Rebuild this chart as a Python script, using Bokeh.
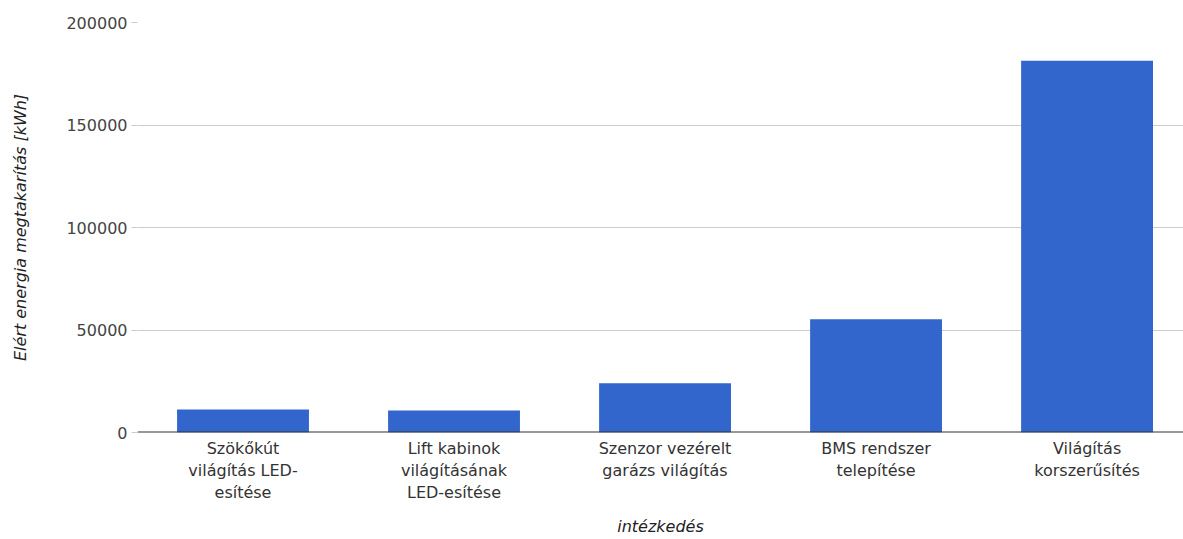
from bokeh.plotting import figure
from bokeh.models import Range1d, FixedTicker, NumeralTickFormatter, Span
from bokeh.embed import file_html
from bokeh.resources import INLINE

categories = [
    "Szökőkút\nvilágítás LED-\nesítése",
    "Lift kabinok\nvilágításának\nLED-esítése",
    "Szenzor vezérelt\ngarázs világítás",
    "BMS rendszer\ntelepítése",
    "Világítás\nkorszerűsítés",
]
savings = [11200, 10700, 24000, 55200, 181300]
y_ticks = [0, 50000, 100000, 150000, 200000]

xs = list(range(len(categories)))

p = figure(width=1183, height=539, output_backend="svg", toolbar_location=None,
           x_range=Range1d(-0.5, 4.457), y_range=Range1d(0, 200000),
           min_border_left=137, min_border_right=0, min_border_top=22,
           min_border_bottom=107)
p.outline_line_color = None
p.background_fill_color = "white"

p.vbar(x=xs, top=savings, width=0.625, color="#3366cc", line_color=None)

p.add_layout(Span(location=0, dimension="width", line_color="#333333", line_width=2))

font = "DejaVu Sans"
p.xaxis.ticker = FixedTicker(ticks=xs)
p.xaxis.major_label_overrides = {i: c for i, c in zip(xs, categories)}
p.xaxis.axis_line_color = None
p.xaxis.major_tick_line_color = None
p.xaxis.minor_tick_line_color = None
p.xaxis.major_label_text_font = font
p.xaxis.major_label_text_font_size = "16px"
p.xaxis.major_label_text_color = "#333333"
p.xaxis.major_label_text_line_height = 1.18
p.xaxis.major_label_standoff = 0
p.xaxis.axis_label = "intézkedés"
p.xaxis.axis_label_text_font = font
p.xaxis.axis_label_text_font_size = "16px"
p.xaxis.axis_label_text_font_style = "italic"
p.xaxis.axis_label_text_color = "#222222"
p.xaxis.axis_label_standoff = 12

p.yaxis.ticker = FixedTicker(ticks=y_ticks)
p.yaxis.formatter = NumeralTickFormatter(format="0")
p.yaxis.axis_line_color = None
p.yaxis.major_tick_line_color = "#cccccc"
p.yaxis.major_tick_out = 6
p.yaxis.major_tick_in = 0
p.yaxis.minor_tick_line_color = None
p.yaxis.major_label_text_font = font
p.yaxis.major_label_text_font_size = "16px"
p.yaxis.major_label_text_color = "#444444"
p.yaxis.major_label_standoff = 4
p.yaxis.axis_label = "Elért energia megtakarítás [kWh]"
p.yaxis.axis_label_text_font = font
p.yaxis.axis_label_text_font_size = "16px"
p.yaxis.axis_label_text_font_style = "italic"
p.yaxis.axis_label_text_color = "#222222"
p.yaxis.axis_label_standoff = 33

p.xgrid.grid_line_color = None
p.ygrid.grid_line_color = "#cccccc"
p.ygrid.grid_line_width = 1

open("out.html", "w").write(file_html(p, INLINE))
